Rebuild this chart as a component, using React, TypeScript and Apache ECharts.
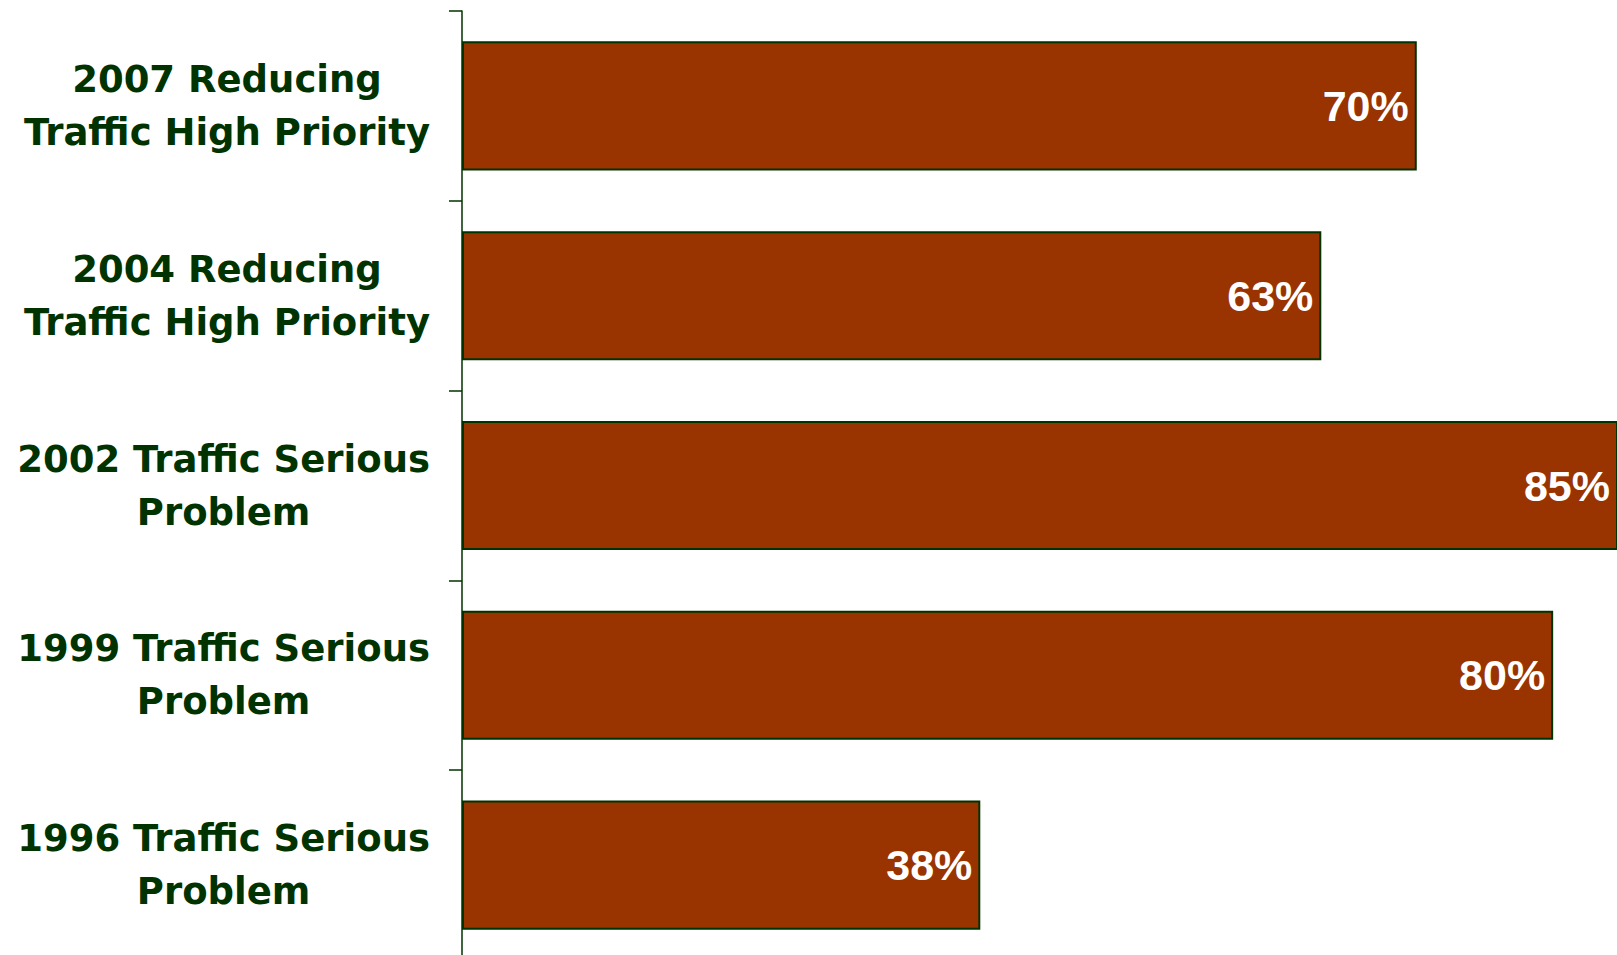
import React, { useEffect, useRef } from "react";
import * as echarts from "echarts";

const categories = [
  "2007 Reducing\nTraffic High Priority",
  "2004 Reducing\nTraffic High Priority",
  "2002 Traffic Serious\nProblem",
  "1999 Traffic Serious\nProblem",
  "1996 Traffic Serious\nProblem",
];
const values = [70, 63, 85, 80, 38];

const GREEN = "#003300";
const BAR = "#993300";

export default function App() {
  const ref = useRef<HTMLDivElement>(null);
  useEffect(() => {
    if (!ref.current) return;
    const chart = echarts.init(ref.current, null, { renderer: "svg" });
    chart.setOption({
      animation: false,
      backgroundColor: "#ffffff",
      grid: { left: 462, right: 0, top: 11, bottom: 0, containLabel: false },
      xAxis: {
        type: "value",
        min: 0,
        max: 84.68,
        show: false,
        splitLine: { show: false },
      },
      yAxis: {
        type: "category",
        inverse: true,
        data: categories,
        axisLine: { show: true, lineStyle: { color: GREEN, width: 1.5 } },
        axisTick: { show: true, length: 13, lineStyle: { color: GREEN, width: 1.5 } },
        splitLine: { show: false },
        axisLabel: {
          interval: 0,
          margin: 32,
          align: "right",
          formatter: (v: string) =>
            v
              .split("\n")
              .map((l) => `{c|${l}}`)
              .join("\n"),
          rich: {
            c: {
              align: "center",
              fontFamily: "DejaVu Sans",
              fontWeight: "bold",
              fontSize: 37,
              lineHeight: 53,
              color: GREEN,
            },
          },
        },
      },
      series: [
        {
          type: "bar",
          data: values,
          clip: true,
          barCategoryGap: "32%",
          itemStyle: { color: BAR, borderColor: GREEN, borderWidth: 2 },
          label: {
            show: true,
            position: "insideRight",
            distance: 8,
            formatter: "{c}%",
            color: "#ffffff",
            fontFamily: "Liberation Sans",
            fontWeight: "bold",
            fontSize: 43,
          },
        },
      ],
    });
    return () => chart.dispose();
  }, []);
  return (
    <div
      style={{
        position: "absolute",
        left: 0,
        top: 0,
        width: 1617,
        height: 955,
        overflow: "hidden",
      }}
    >
      <div ref={ref} style={{ width: 1617, height: 960 }} />
    </div>
  );
}
